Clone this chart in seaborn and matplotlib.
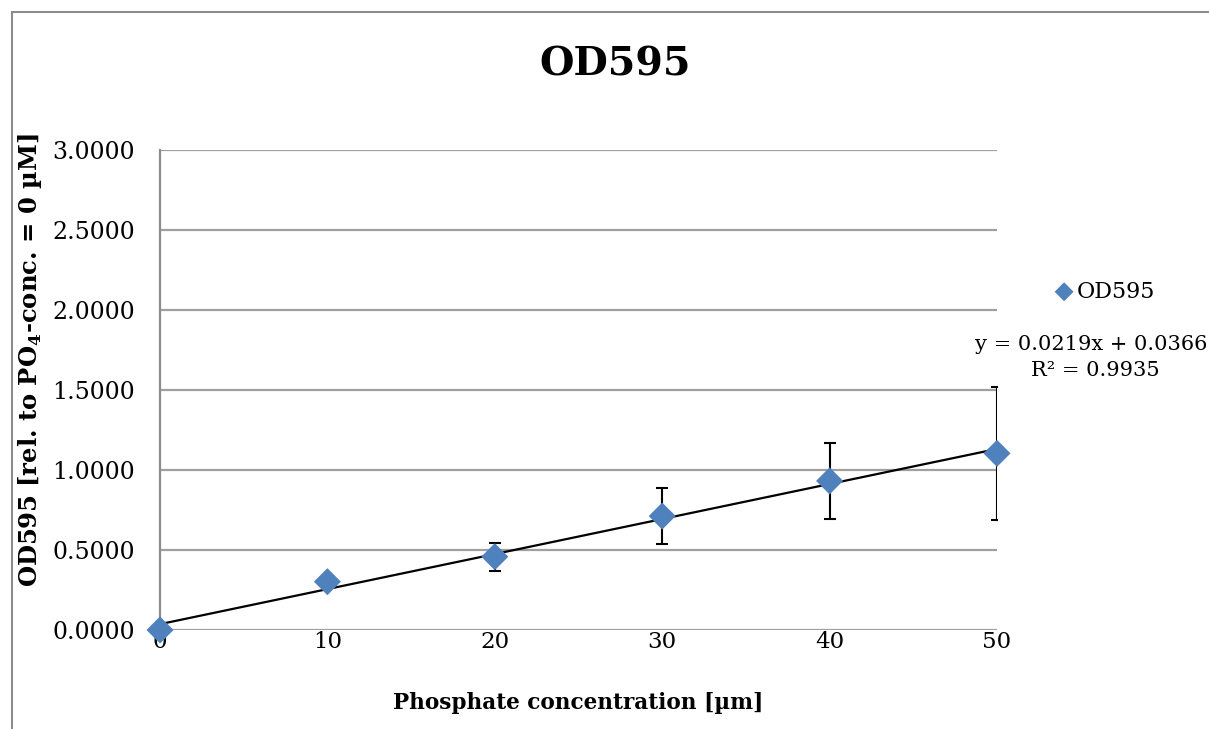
import numpy as np
import pandas as pd
import matplotlib
matplotlib.use("Agg")
import matplotlib.pyplot as plt
import seaborn as sns
from matplotlib.patches import Rectangle

# ---- data ----
concentration = [0, 10, 20, 30, 40, 50]
od595 = [0.0000, 0.3020, 0.4580, 0.7120, 0.9320, 1.1040]
od595_err = [0.0000, 0.0000, 0.0870, 0.1750, 0.2370, 0.4150]
y_ticks = [0.0, 0.5, 1.0, 1.5, 2.0, 2.5, 3.0]
x_ticks = [0, 10, 20, 30, 40, 50]
slope, intercept = 0.0219, 0.0366
r_squared = 0.9935

sns.set_theme(style="white")
plt.rcParams['font.family'] = ['DejaVu Serif']
plt.rcParams['mathtext.fontset'] = 'custom'
plt.rcParams['mathtext.rm'] = 'DejaVu Serif'
plt.rcParams['mathtext.bf'] = 'DejaVu Serif:bold'
for k in ['text.color', 'axes.labelcolor', 'xtick.color', 'ytick.color']:
    plt.rcParams[k] = 'black'

df = pd.DataFrame({"x": concentration, "y": od595, "err": od595_err})

fig = plt.figure(figsize=(12.09, 7.29), dpi=100)
W, H = 1209, 729
ax = fig.add_axes([160 / W, 1 - 630 / H, (997 - 160) / W, (630 - 150) / H])

# outer chart border
fig.patches.append(Rectangle((12 / W, -0.05), 1.2, 1 - 12 / H + 0.05,
                             transform=fig.transFigure, fill=False,
                             edgecolor='#8c8c8c', linewidth=1.5, zorder=0))

# gridlines
for yv in y_ticks:
    ax.axhline(yv, color='#a0a0a0', linewidth=1.6, zorder=0)

# error bars
ax.errorbar(df["x"], df["y"], yerr=df["err"], fmt='none', ecolor='black',
            elinewidth=1.5, capsize=4.5, capthick=1.5, zorder=2)

# trendline
xs = np.array([concentration[0], concentration[-1]], dtype=float)
ax.plot(xs, slope * xs + intercept, color='black', linewidth=1.6, zorder=3)

# markers
sns.scatterplot(data=df, x="x", y="y", marker='D', s=190, color='#4F81BD',
                edgecolor='none', ax=ax, zorder=4, clip_on=False, label='OD595')

ax.set_xlim(0, 50)
ax.set_ylim(0, 3.0)
ax.set_xticks(x_ticks)
ax.set_yticks(y_ticks)
ax.set_xticklabels([str(v) for v in x_ticks], fontsize=16.5)
ax.set_yticklabels([f"{v:.4f}" for v in y_ticks], fontsize=17)
ax.tick_params(axis='x', length=0, pad=1)
ax.tick_params(axis='y', length=0, pad=18)

for s in ['top', 'right', 'bottom']:
    ax.spines[s].set_visible(False)
ax.spines['left'].set_color('#8c8c8c')
ax.spines['left'].set_linewidth(1.6)

ax.set_xlabel("Phosphate concentration [µm]", fontsize=15.6, fontweight='bold')
ax.xaxis.set_label_coords((578 - 160) / 837, -(703 - 630) / 480)
ax.xaxis.label.set_va('center')
ax.set_ylabel(r"OD595 [rel. to PO$_\mathbf{4}$-conc. = 0 µM]", fontsize=17.5,
              fontweight='bold')
ax.yaxis.set_label_coords(-(160 - 30) / 837, (630 - 360) / 480)
ax.yaxis.label.set_va('center')

fig.text(615 / W, 1 - 65 / H, "OD595", ha='center', va='center',
         fontsize=28.5, fontweight='bold')

# legend
leg = ax.legend(loc='center left', bbox_to_anchor=(1.043, 0.705), frameon=False,
                fontsize=16, handletextpad=-0.45, markerscale=0.7,
                borderaxespad=0)

# trendline label
fig.text(975 / W, 1 - 345 / H, f"y = {slope}x + {intercept}", ha='left',
         va='center', fontsize=15)
fig.text(1095 / W, 1 - 370 / H, f"R² = {r_squared}", ha='center',
         va='center', fontsize=15)

fig.savefig("out.png", dpi=100)
